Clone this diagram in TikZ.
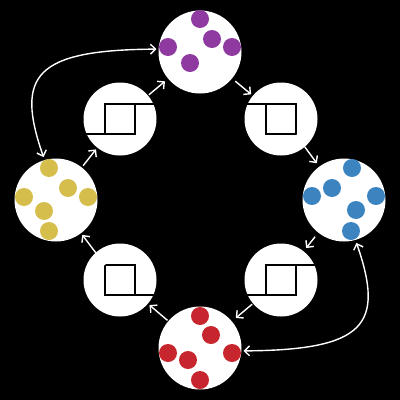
\documentclass[tikz,border=0pt]{standalone}
\usetikzlibrary{arrows.meta}
\definecolor{cpur}{RGB}{142,58,160}
\definecolor{cyel}{RGB}{214,190,76}
\definecolor{cblu}{RGB}{60,132,192}
\definecolor{cred}{RGB}{200,38,46}
\tikzset{
  bigc/.style={circle,fill=white,draw=none,minimum size=83pt,inner sep=0pt},
  swc/.style={circle,fill=white,draw=none,minimum size=73pt,inner sep=0pt},
  dot/.style={circle,draw=none,minimum size=18pt,inner sep=0pt},
  wave/.style={draw=black,line width=1.8pt},
  conn/.style={draw=white,line width=1.4pt,-{Straight Barb[length=5pt,width=10pt]}},
  conn2/.style={draw=white,line width=1.4pt,{Straight Barb[length=5pt,width=10pt]}-{Straight Barb[length=5pt,width=10pt]}}
}
\begin{document}
\begin{tikzpicture}[x=1pt,y=-1pt]
\fill[black] (0,0) rectangle (400,400);
\useasboundingbox (0,0) rectangle (400,400);
% big circles
\node[bigc] (P) at (200,52) {};
\node[bigc] (Y) at (56,200) {};
\node[bigc] (B) at (344,200) {};
\node[bigc] (R) at (200,348) {};
% switch circles
\node[swc] (S1) at (120,119) {};
\node[swc] (S2) at (281,119) {};
\node[swc] (S3) at (281,280) {};
\node[swc] (S4) at (120,280) {};
% dots
\foreach \x/\y [count=\i] in {200/19,212/39,232/47,168/47,190/63}
  \node[dot,fill=cpur] (p\i) at (\x,\y) {};
\foreach \x/\y [count=\i] in {49/168,68/188,88/197,24/197,44/211,49/231}
  \node[dot,fill=cyel] (y\i) at (\x,\y) {};
\foreach \x/\y [count=\i] in {352/168,332/188,312/196,376/196,356/210,351/231}
  \node[dot,fill=cblu] (b\i) at (\x,\y) {};
\foreach \x/\y [count=\i] in {200/316,211/335,168/353,232/353,188/360,200/380}
  \node[dot,fill=cred] (r\i) at (\x,\y) {};
% waveforms
\draw[wave] (S1)++(-15,-15) rectangle ++(30,30);
\draw[wave] (S1)++(-34,15) -- ++(19,0);
\draw[wave] (S1)++(15,-15) -- ++(19,0);
\draw[wave] (S2)++(-15,-15) rectangle ++(30,30);
\draw[wave] (S2)++(-34,-15) -- ++(19,0);
\draw[wave] (S3)++(-15,-15) rectangle ++(30,30);
\draw[wave] (S3)++(-34,15) -- ++(19,0);
\draw[wave] (S3)++(15,-15) -- ++(19,0);
\draw[wave] (S4)++(-15,-15) rectangle ++(30,30);
\draw[wave] (S4)++(15,15) -- ++(19,0);
\coordinate (S2c) at (296,135);
\coordinate (S4c) at (105,265);
% connectors
\draw[conn,shorten <=2pt,shorten >=2pt] (Y) -- (S1);
\draw[conn,shorten <=1pt,shorten >=4pt] (S1) -- (P);
\draw[conn,shorten <=4pt,shorten >=2pt] (P) -- (S2);
\draw[conn,shorten >=4pt] (S2c) -- (B);
\draw[conn,shorten <=5pt,shorten >=4pt] (B) -- (S3);
\draw[conn,shorten <=1pt,shorten >=5pt] (S3) -- (R);
\draw[conn,shorten <=1pt,shorten >=2pt] (R) -- (S4);
\draw[conn,shorten >=2pt] (S4c) -- (Y);
% curved double arrows
\draw[conn2,shorten <=3pt,shorten >=2pt] (Y.106) .. controls (15,75) and (35,50) .. (P.176);
\draw[conn2,shorten <=3pt,shorten >=2pt] (B.-74) .. controls (385,325) and (365,350) .. (R.-4);
\end{tikzpicture}
\end{document}
